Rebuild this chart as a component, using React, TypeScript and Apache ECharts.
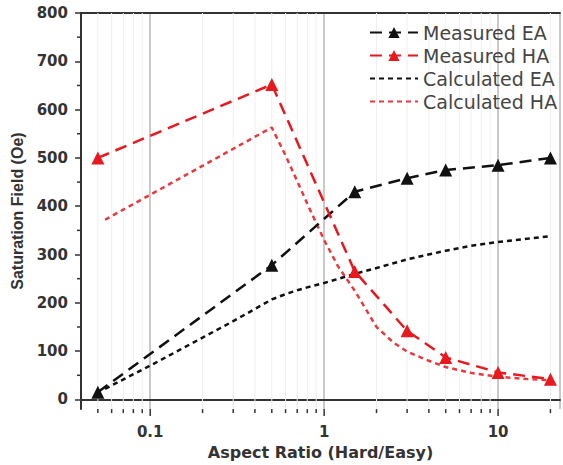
import React, { useEffect, useRef } from 'react';
import * as echarts from 'echarts';

// Measured data
const measuredX = [0.05, 0.5, 1.5, 3, 5, 10, 20];
const measuredEA = [15, 278, 430, 458, 475, 485, 500];
const measuredHA = [500, 652, 265, 142, 87, 56, 42];

// Calculated curves
const calcEAX = [0.055, 0.1, 0.2, 0.3, 0.5, 0.6, 0.7, 0.8, 1, 1.5, 2, 3, 5, 7, 10, 15, 20];
const calcEA = [22, 70, 128, 162, 207, 218, 226, 232, 241, 260, 272, 290, 308, 318, 326, 333, 338];
const calcHAX = [0.055, 0.5, 0.6, 0.7, 0.8, 1, 1.2, 1.5, 2, 2.5, 3, 4, 5, 7, 10, 15, 20];
const calcHA = [372, 563, 505, 452, 405, 330, 276, 225, 150, 118, 99, 80, 67, 55, 47, 42, 40];

// Axis ticks
const xTickValues = [0.05, 0.06, 0.07, 0.08, 0.09, 0.1, 0.2, 0.3, 0.4, 0.5, 0.6, 0.7, 0.8, 0.9, 1, 2, 3, 4, 5, 6, 7, 8, 9, 10, 20];
const yMajorTicks = [0, 100, 200, 300, 400, 500, 600, 700, 800];
const yMinorTicks = [50, 150, 250, 350, 450, 550, 650, 750];

const RED = '#e8191e';
const RED_CALC = '#e8393d';
const BLACK = '#111111';
const AXIS = '#333333';

const zip = (xs: number[], ys: number[]) => xs.map((x, i) => [x, ys[i]]);
const isDecade = (v: number) => Math.abs(Math.log10(v) - Math.round(Math.log10(v))) < 1e-6;

export default function App() {
  const ref = useRef<HTMLDivElement>(null);
  useEffect(() => {
    const chart = echarts.init(ref.current!, null, { renderer: 'svg' });
    const xMin = 0.04;
    const xMax = 22.7;
    const option: any = {
      animation: false,
      backgroundColor: '#ffffff',
      grid: { left: 81, top: 13, right: 0, bottom: 52, containLabel: false },
      legend: {
        orient: 'vertical',
        left: 364,
        top: 18,
        itemWidth: 48,
        itemHeight: 14,
        itemGap: 4,
        data: [
          { name: 'Measured EA' },
          { name: 'Measured HA' },
          { name: 'Calculated EA', itemStyle: { opacity: 0 } },
          { name: 'Calculated HA', itemStyle: { opacity: 0 } },
        ],
        textStyle: { fontFamily: 'DejaVu Sans', fontSize: 19, lineHeight: 19, color: '#454545' },
      },
      xAxis: [
        {
          type: 'log',
          logBase: 10,
          min: xMin,
          max: xMax,
          name: 'Aspect Ratio (Hard/Easy)',
          nameLocation: 'middle',
          nameGap: 30,
          nameTextStyle: { fontFamily: 'DejaVu Sans', fontWeight: 'bold', fontSize: 16, color: '#333' },
          axisLine: { show: true, lineStyle: { color: AXIS, width: 2 } },
          axisTick: { show: false },
          axisLabel: {
            margin: 15,
            fontFamily: 'DejaVu Sans',
            fontWeight: 'bold',
            fontSize: 15,
            color: '#333',
            formatter: (v: number) => (isDecade(v) ? String(Number(v.toPrecision(3))) : ''),
          },
          splitLine: { show: true, lineStyle: { color: '#c9c9c9', width: 2 } },
          minorSplitLine: { show: false },
        },
        {
          type: 'log',
          logBase: 10,
          min: xMin,
          max: xMax,
          position: 'top',
          axisLine: { show: true, lineStyle: { color: AXIS, width: 2 } },
          axisTick: { show: false },
          axisLabel: { show: false },
          splitLine: { show: false },
        },
      ],
      yAxis: {
        type: 'value',
        min: -20,
        max: 800,
        minInterval: 100,
        maxInterval: 100,
        name: 'Saturation Field (Oe)',
        nameLocation: 'middle',
        nameGap: 46,
        nameTextStyle: { fontFamily: 'Liberation Sans', fontWeight: 'bold', fontSize: 16, color: '#333' },
        axisLine: { show: true, lineStyle: { color: AXIS, width: 2 } },
        axisTick: { show: true, length: 6, customValues: yMajorTicks, lineStyle: { color: AXIS, width: 1.5 } },
        axisLabel: {
          margin: 13,
          customValues: yMajorTicks,
          fontFamily: 'DejaVu Sans',
          fontWeight: 'bold',
          fontSize: 15,
          color: '#333',
          formatter: (v: number) => (v < 0 ? '' : String(v)),
        },
        splitLine: { show: false },
      },
      series: [
        {
          type: 'custom',
          name: 'xticks',
          silent: true,
          clip: false,
          z: 1,
          xAxisIndex: 0,
          data: xTickValues.map((v) => [v, 0]),
          encode: { x: 0, y: 1 },
          renderItem: (params: any, api: any) => {
            const v = api.value(0);
            const p = api.coord([v, 0]);
            const cs = params.coordSys;
            const bottom = cs.y + cs.height;
            const major = isDecade(v);
            const children: any[] = [
              {
                type: 'line',
                shape: { x1: p[0], y1: bottom, x2: p[0], y2: bottom + (major ? 7 : 4) },
                style: { stroke: AXIS, lineWidth: 1.5 },
              },
            ];
            if (!major) {
              children.push({
                type: 'line',
                shape: { x1: p[0], y1: cs.y, x2: p[0], y2: bottom },
                style: { stroke: '#efefef', lineWidth: 1 },
              });
            }
            return { type: 'group', children };
          },
        },
        {
          type: 'custom',
          name: 'yminor',
          silent: true,
          clip: false,
          z: 1,
          data: yMinorTicks.map((v) => [1, v]),
          encode: { x: 0, y: 1 },
          renderItem: (params: any, api: any) => {
            const p = api.coord([1, api.value(1)]);
            const cs = params.coordSys;
            return {
              type: 'line',
              shape: { x1: cs.x - 4, y1: p[1], x2: cs.x, y2: p[1] },
              style: { stroke: AXIS, lineWidth: 1.5 },
            };
          },
        },
        {
          name: 'Measured EA',
          type: 'line',
          data: zip(measuredX, measuredEA),
          symbol: 'triangle',
          symbolSize: 13,
          color: BLACK,
          itemStyle: { color: BLACK },
          lineStyle: { color: BLACK, width: 2.5, type: [12, 7] },
          z: 5,
        },
        {
          name: 'Measured HA',
          type: 'line',
          data: zip(measuredX, measuredHA),
          symbol: 'triangle',
          symbolSize: 13,
          color: RED,
          itemStyle: { color: RED },
          lineStyle: { color: RED, width: 2.5, type: [12, 7] },
          z: 5,
        },
        {
          name: 'Calculated EA',
          type: 'line',
          data: zip(calcEAX, calcEA),
          symbol: 'none',
          color: BLACK,
          lineStyle: { color: BLACK, width: 2.5, type: [5, 4] },
          z: 4,
        },
        {
          name: 'Calculated HA',
          type: 'line',
          data: zip(calcHAX, calcHA),
          symbol: 'none',
          color: RED_CALC,
          lineStyle: { color: RED_CALC, width: 2.5, type: [5, 4] },
          z: 4,
        },
      ],
    };
    chart.setOption(option);
    return () => chart.dispose();
  }, []);
  return <div ref={ref} style={{ position: 'fixed', left: 0, top: 0, width: 563, height: 465 }} />;
}
